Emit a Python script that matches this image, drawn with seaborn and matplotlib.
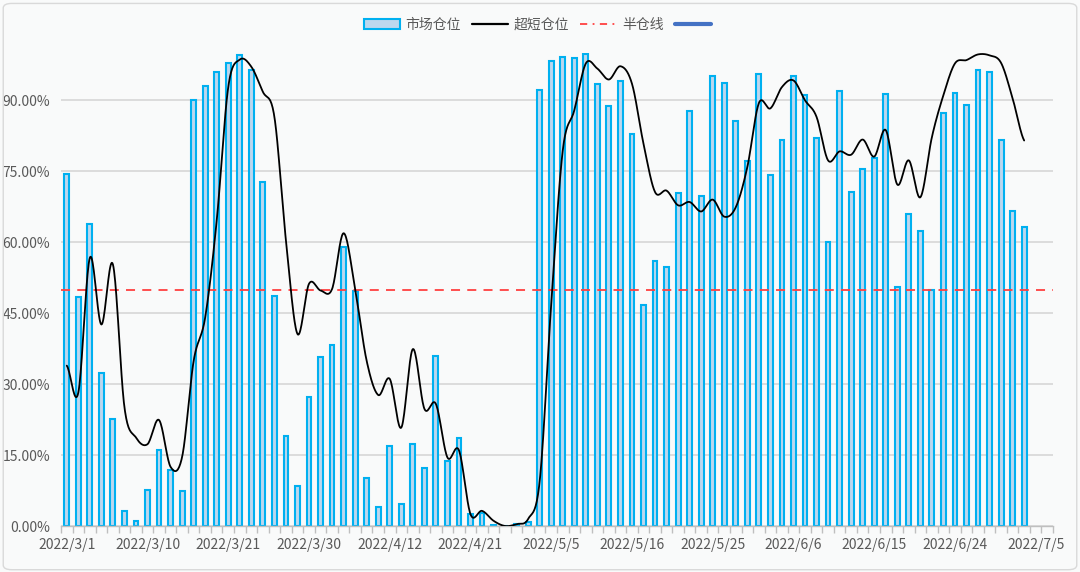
"""
市场仓位 / 超短仓位 对比图 (2022/3/1 - 2022/7/5).
"""

import numpy as np
import pandas as pd
import matplotlib
matplotlib.use("Agg")
import matplotlib.pyplot as plt
import seaborn as sns
from matplotlib.patches import Patch, FancyBboxPatch
from matplotlib.lines import Line2D
from matplotlib.ticker import PercentFormatter

# 交易日: 工作日去掉清明, 劳动节, 端午休市
holidays = ["2022-04-04", "2022-04-05", "2022-05-02", "2022-05-03", "2022-05-04", "2022-06-03"]
days = pd.bdate_range("2022-03-01", "2022-07-06", freq="C", holidays=holidays)
day_labels = [f"{d.year}/{d.month}/{d.day}" for d in days]

# 市场仓位 (%), 3/1 - 7/4
market = [74.5, 48.4, 63.8, 32.4, 22.7, 3.2, 1.1, 7.6, 16.1, 11.9,
          7.5, 90.0, 93.0, 95.9, 97.8, 99.5, 96.4, 72.8, 48.7, 19.1,
          8.5, 27.2, 35.8, 38.2, 59.0, 49.6, 10.2, 4.1, 16.9, 4.6,
          17.4, 12.2, 35.9, 13.8, 18.6, 2.5, 2.8, 0.3, 0.0, 0.5,
          0.8, 92.2, 98.3, 99.2, 99.0, 99.7, 93.5, 88.9, 94.0, 82.8,
          46.7, 56.0, 54.8, 70.4, 87.8, 69.8, 95.1, 93.6, 85.7, 77.2,
          95.6, 74.3, 81.7, 95.2, 91.2, 82.0, 60.0, 92.0, 70.6, 75.4,
          77.9, 91.3, 50.6, 65.9, 62.3, 49.8, 87.3, 91.6, 89.0, 96.4,
          95.9, 81.7, 66.6, 63.2]

# 超短仓位 (%)
short = [33.9, 28.2, 56.7, 42.6, 55.3, 25.1, 18.7, 17.3, 22.4, 12.5,
         14.6, 34.9, 44.1, 64.6, 92.8, 98.6, 97.1, 91.8, 86.5, 60.4,
         40.6, 51.2, 49.8, 50.1, 61.9, 50.1, 34.9, 27.7, 31.1, 20.8,
         37.4, 24.8, 25.8, 14.5, 16.0, 2.5, 3.2, 1.1, 0.0, 0.4,
         1.5, 9.5, 47.0, 79.4, 87.9, 97.8, 96.7, 94.4, 97.2, 93.5,
         80.8, 70.6, 70.9, 67.8, 68.5, 66.5, 69.0, 65.4, 67.4, 75.9,
         89.4, 88.3, 92.8, 94.2, 90.0, 86.5, 77.3, 79.2, 78.5, 81.7,
         78.1, 83.7, 72.2, 77.3, 69.5, 82.2, 91.1, 97.8, 98.5, 99.7,
         99.5, 97.9, 90.4, 81.5]

half_line = 50.0
y_ticks = [0, 15, 30, 45, 60, 75, 90]
label_step = 7


def smooth(y, samples=20):
    """平滑折线 (类似 Excel 的平滑线, Catmull-Rom)."""
    y = np.asarray(y, dtype=float)
    n = len(y)
    xs, ys = [], []
    for i in range(n - 1):
        p0 = y[max(i - 1, 0)]
        p1, p2 = y[i], y[i + 1]
        p3 = y[min(i + 2, n - 1)]
        b1 = p1 + (p2 - p0) / 6
        b2 = p2 - (p3 - p1) / 6
        t = np.linspace(0, 1, samples, endpoint=False)
        ys.append((1 - t) ** 3 * p1 + 3 * (1 - t) ** 2 * t * b1
                  + 3 * (1 - t) * t ** 2 * b2 + t ** 3 * p2)
        xs.append(i + t)
    xs.append([n - 1])
    ys.append([y[-1]])
    return np.concatenate(xs), np.concatenate(ys)


sns.set_theme(style="white")
plt.rcParams["font.family"] = ["Noto Sans CJK SC", "DejaVu Sans"]

bg = "#f9fafa"
text_color = "#595959"

fig = plt.figure(figsize=(10.8, 5.72), dpi=100, facecolor=bg)
ax = fig.add_axes([61 / 1080, 1 - 526 / 572, (1053 - 61) / 1080, (526 - 53) / 572])
ax.set_facecolor(bg)

n = len(market)
df = pd.DataFrame({"day": day_labels[:n], "market": market})
sns.barplot(data=df, x="day", y="market", order=day_labels[:n], ax=ax,
            color="#bdd7ee", edgecolor="#00b0f0", linewidth=1.5,
            width=0.42, saturation=1, zorder=2)

sx, sy = smooth(short)
sns.lineplot(x=sx, y=sy, ax=ax, color="black", linewidth=1.3,
             sort=False, estimator=None, zorder=4)

ax.axhline(half_line, color="#ff4040", linewidth=1.3,
           linestyle=(0, (5, 4)), zorder=3)

ax.set_xlim(-0.5, len(day_labels) - 0.5)
ax.set_ylim(0, 100)
ax.set_yticks(y_ticks)
ax.yaxis.set_major_formatter(PercentFormatter(decimals=2))
ax.grid(axis="y", color="#d9d9d9", linewidth=1.3, zorder=0)
ax.set_axisbelow(True)

label_pos = list(range(0, len(day_labels), label_step))
ax.set_xticks(label_pos)
ax.set_xticklabels([day_labels[i] for i in label_pos])
ax.set_xticks(np.arange(-0.5, len(day_labels)), minor=True)
ax.tick_params(axis="x", which="major", length=0, pad=9,
               labelsize=10, labelcolor=text_color)
ax.tick_params(axis="x", which="minor", length=5, width=1, color="#bfbfbf",
               direction="out", bottom=True)
ax.tick_params(axis="y", length=0, pad=8, labelsize=10, labelcolor=text_color)
ax.set_xlabel("")
ax.set_ylabel("")

for side in ["top", "right", "left"]:
    ax.spines[side].set_visible(False)
ax.spines["bottom"].set_color("#bfbfbf")
ax.spines["bottom"].set_linewidth(1)

handles = [
    Patch(facecolor="#bdd7ee", edgecolor="#00b0f0", linewidth=1.5),
    Line2D([], [], color="black", linewidth=1.6),
    Line2D([], [], color="#ff4040", linewidth=1.3, linestyle=(0, (4, 3, 1, 3))),
    Line2D([], [], color="#4472c4", linewidth=3),
]
labels = ["市场仓位", "超短仓位", "半仓线", ""]
fig.legend(handles, labels, loc="center", bbox_to_anchor=(0.5, 1 - 25 / 572),
           ncol=4, frameon=False, fontsize=10, labelcolor=text_color,
           handlelength=2.6, handletextpad=0.4, columnspacing=0.8)

border = FancyBboxPatch((0.003, 0.004), 0.994, 0.99, transform=fig.transFigure,
                        boxstyle="round,pad=0,rounding_size=0.008",
                        facecolor="none", edgecolor="#d9d9d9", linewidth=1)
fig.patches.append(border)

fig.savefig("out.png", dpi=100, facecolor=bg)
plt.close(fig)
